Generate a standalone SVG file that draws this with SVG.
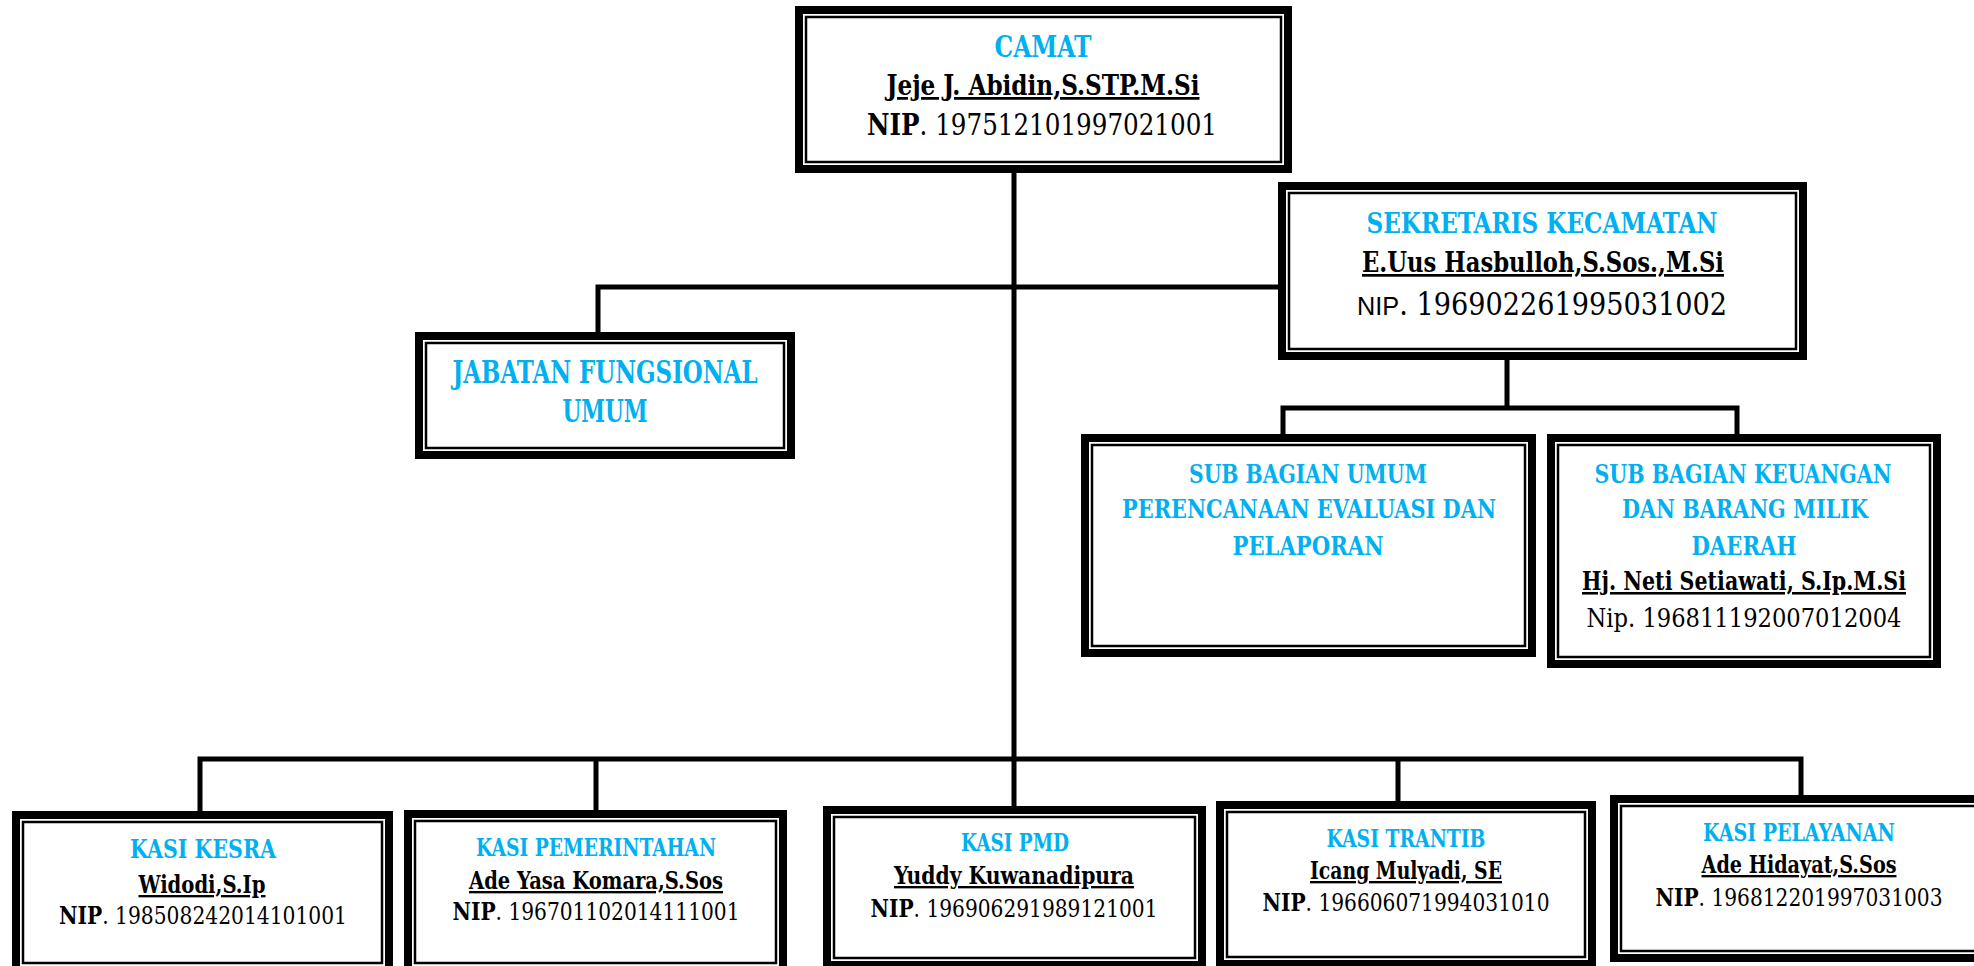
<svg xmlns="http://www.w3.org/2000/svg" width="1974" height="966" viewBox="0 0 1974 966">
<style>
.o{fill:#fff;stroke:#000;stroke-width:8}
.i{fill:none;stroke:#000;stroke-width:2.5}
.c{stroke:#000;stroke-width:5;fill:none;stroke-linecap:square}
text{font-family:"DejaVu Serif","Liberation Serif",serif;font-stretch:condensed;text-anchor:middle;fill:#000}
.t{fill:#00B0F0;font-weight:bold}
.n{font-weight:bold;text-decoration:underline}
.b{font-weight:bold}
.s{font-family:"Liberation Sans",sans-serif;font-stretch:normal}
</style>
<rect width="1974" height="966" fill="#fff"/>
<g id="connectors">
<path class="c" d="M1014 173V806"/>
<path class="c" d="M598 287H1278M598 287V332"/>
<path class="c" d="M1507 360V408M1283 408H1737M1283 408V434M1737 408V434"/>
<path class="c" d="M200 759H1801M200 759V811M596 759V810M1398 759V801M1801 759V795"/>
</g>
<g id="camat">
<rect class="o" x="799" y="10" width="489" height="159"/>
<rect class="i" x="806" y="17" width="475" height="145"/>
<text class="t" x="1043" y="57" font-size="29" textLength="97" lengthAdjust="spacingAndGlyphs">CAMAT</text>
<text class="n" x="1043" y="95" font-size="27.5" textLength="313" lengthAdjust="spacingAndGlyphs">Jeje J. Abidin,S.STP.M.Si</text>
<text x="1042" y="135" font-size="29" textLength="350" lengthAdjust="spacingAndGlyphs"><tspan class="b">NIP</tspan>. 197512101997021001</text>
</g>
<g id="sekretaris">
<rect class="o" x="1282" y="186" width="521" height="170"/>
<rect class="i" x="1289" y="193" width="507" height="156"/>
<text class="t" x="1542" y="233" font-size="27" textLength="351" lengthAdjust="spacingAndGlyphs">SEKRETARIS KECAMATAN</text>
<text class="n" x="1543" y="272" font-size="27" textLength="362" lengthAdjust="spacingAndGlyphs">E.Uus Hasbulloh,S.Sos.,M.Si</text>
<text x="1542" y="315" font-size="31" textLength="370" lengthAdjust="spacingAndGlyphs"><tspan class="s" font-size="26">NIP</tspan>. 196902261995031002</text>
</g>
<g id="jabatan">
<rect class="o" x="419" y="336" width="372" height="119"/>
<rect class="i" x="426" y="343" width="358" height="105"/>
<text class="t" x="605" y="383" font-size="31" textLength="305" lengthAdjust="spacingAndGlyphs">JABATAN FUNGSIONAL</text>
<text class="t" x="605" y="422" font-size="31" textLength="85" lengthAdjust="spacingAndGlyphs">UMUM</text>
</g>
<g id="subumum">
<rect class="o" x="1085" y="438" width="447" height="215"/>
<rect class="i" x="1092" y="445" width="433" height="201"/>
<text class="t" x="1308" y="483" font-size="26" textLength="238" lengthAdjust="spacingAndGlyphs">SUB BAGIAN UMUM</text>
<text class="t" x="1309" y="518" font-size="26" textLength="374" lengthAdjust="spacingAndGlyphs">PERENCANAAN EVALUASI DAN</text>
<text class="t" x="1308" y="555" font-size="26" textLength="151" lengthAdjust="spacingAndGlyphs">PELAPORAN</text>
</g>
<g id="subkeuangan">
<rect class="o" x="1551" y="438" width="386" height="226"/>
<rect class="i" x="1558" y="445" width="372" height="212"/>
<text class="t" x="1743" y="483" font-size="26" textLength="297" lengthAdjust="spacingAndGlyphs">SUB BAGIAN KEUANGAN</text>
<text class="t" x="1745" y="518" font-size="26" textLength="246" lengthAdjust="spacingAndGlyphs">DAN BARANG MILIK</text>
<text class="t" x="1744" y="555" font-size="26" textLength="105" lengthAdjust="spacingAndGlyphs">DAERAH</text>
<text class="n" x="1744" y="590" font-size="25.5" textLength="324" lengthAdjust="spacingAndGlyphs">Hj. Neti Setiawati, S.Ip.M.Si</text>
<text x="1744" y="627" font-size="26" textLength="315" lengthAdjust="spacingAndGlyphs">Nip. 196811192007012004</text>
</g>
<g id="kesra">
<rect class="o" x="16" y="815" width="373" height="155"/>
<rect class="i" x="23" y="822" width="359" height="141"/>
<text class="t" x="203" y="858" font-size="26" textLength="146" lengthAdjust="spacingAndGlyphs">KASI KESRA</text>
<text class="n" x="202" y="893" font-size="23.5" textLength="127" lengthAdjust="spacingAndGlyphs">Widodi,S.Ip</text>
<text x="203" y="924" font-size="23.5" textLength="288" lengthAdjust="spacingAndGlyphs"><tspan class="b">NIP</tspan>. 198508242014101001</text>
</g>
<g id="pemerintahan">
<rect class="o" x="408" y="814" width="375" height="156"/>
<rect class="i" x="415" y="821" width="361" height="142"/>
<text class="t" x="596" y="856" font-size="23.5" textLength="240" lengthAdjust="spacingAndGlyphs">KASI PEMERINTAHAN</text>
<text class="n" x="596" y="889" font-size="23.5" textLength="254" lengthAdjust="spacingAndGlyphs">Ade Yasa Komara,S.Sos</text>
<text x="596" y="920" font-size="23.5" textLength="287" lengthAdjust="spacingAndGlyphs"><tspan class="b">NIP</tspan>. 196701102014111001</text>
</g>
<g id="pmd">
<rect class="o" x="827" y="810" width="375" height="155"/>
<rect class="i" x="834" y="817" width="361" height="141"/>
<text class="t" x="1015" y="851" font-size="23.5" textLength="108" lengthAdjust="spacingAndGlyphs">KASI PMD</text>
<text class="n" x="1014" y="884" font-size="23.5" textLength="240" lengthAdjust="spacingAndGlyphs">Yuddy Kuwanadipura</text>
<text x="1014" y="917" font-size="23.5" textLength="287" lengthAdjust="spacingAndGlyphs"><tspan class="b">NIP</tspan>. 196906291989121001</text>
</g>
<g id="trantib">
<rect class="o" x="1220" y="805" width="372" height="159"/>
<rect class="i" x="1227" y="812" width="358" height="145"/>
<text class="t" x="1406" y="847" font-size="23.5" textLength="159" lengthAdjust="spacingAndGlyphs">KASI TRANTIB</text>
<text class="n" x="1406" y="879" font-size="23.5" textLength="192" lengthAdjust="spacingAndGlyphs">Icang Mulyadi, SE</text>
<text x="1406" y="911" font-size="23.5" textLength="287" lengthAdjust="spacingAndGlyphs"><tspan class="b">NIP</tspan>. 196606071994031010</text>
</g>
<g id="pelayanan">
<rect class="o" x="1614" y="799" width="372" height="159"/>
<rect class="i" x="1621" y="806" width="358" height="145"/>
<text class="t" x="1799" y="841" font-size="23.5" textLength="192" lengthAdjust="spacingAndGlyphs">KASI PELAYANAN</text>
<text class="n" x="1799" y="873" font-size="23.5" textLength="195" lengthAdjust="spacingAndGlyphs">Ade Hidayat,S.Sos</text>
<text x="1799" y="906" font-size="23.5" textLength="287" lengthAdjust="spacingAndGlyphs"><tspan class="b">NIP</tspan>. 196812201997031003</text>
</g>
</svg>
